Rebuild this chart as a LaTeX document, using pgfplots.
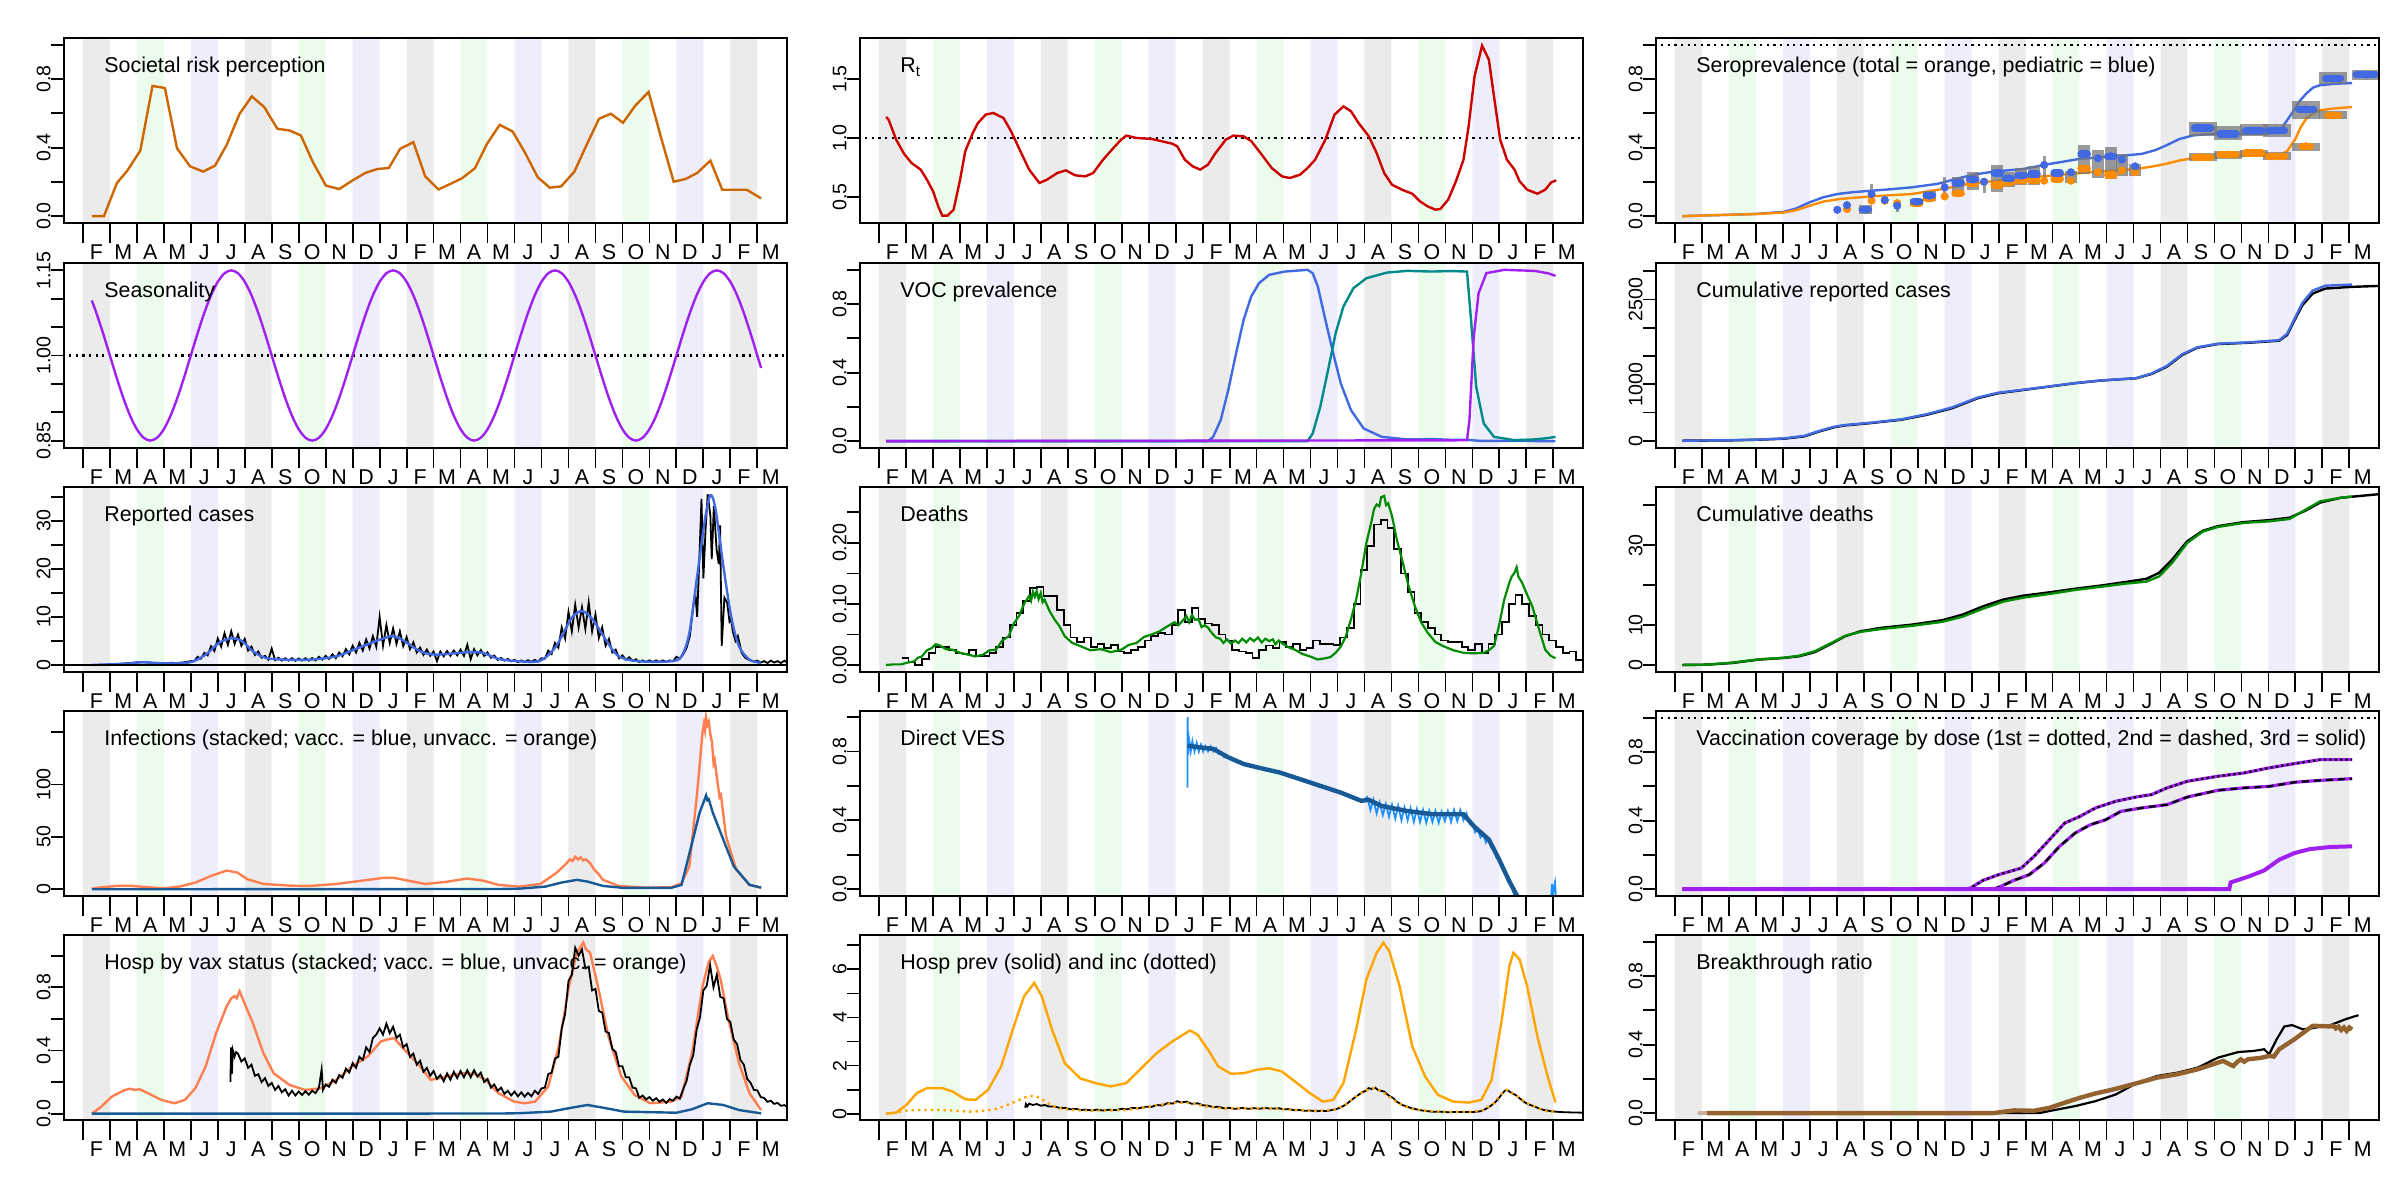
\documentclass[border=0pt]{standalone}
\usepackage{pgfplots}
\pgfplotsset{compat=1.18}
\usepackage{fontspec}
\setmainfont{Liberation Sans}
\newcommand\tfont{\fontsize{10.7}{12}\selectfont}
\newcommand\mfont{\fontsize{10.7}{12}\selectfont}
\newcommand\yfont{\fontsize{9.8}{11}\selectfont}
\definecolor{sgray}{RGB}{235,235,235}
\definecolor{sgreen}{RGB}{236,252,236}
\definecolor{sblue}{RGB}{237,237,252}
\definecolor{riskc}{RGB}{205,102,0}
\definecolor{rtc}{RGB}{205,0,0}
\definecolor{purp}{RGB}{160,32,240}
\definecolor{royal}{RGB}{65,105,225}
\definecolor{teal4}{RGB}{0,139,139}
\definecolor{grn}{RGB}{0,139,0}
\definecolor{coral}{RGB}{255,127,80}
\definecolor{dblue}{RGB}{24,90,150}
\definecolor{dodger}{RGB}{30,144,255}
\definecolor{orng}{RGB}{255,165,0}
\definecolor{dorng}{RGB}{255,140,0}
\definecolor{brn}{RGB}{148,98,47}
\definecolor{gbox}{RGB}{120,120,120}
\newcommand{\stripes}[2]{%
\addplot[draw=none, fill=sgray, forget plot] coordinates {(0,#1)(0,#2)(1,#2)(1,#1)(6,#1)(6,#2)(7,#2)(7,#1)(12,#1)(12,#2)(13,#2)(13,#1)(18,#1)(18,#2)(19,#2)(19,#1)(24,#1)(24,#2)(25,#2)(25,#1)};
\addplot[draw=none, fill=sgreen, forget plot] coordinates {(2,#1)(2,#2)(3,#2)(3,#1)(8,#1)(8,#2)(9,#2)(9,#1)(14,#1)(14,#2)(15,#2)(15,#1)(20,#1)(20,#2)(21,#2)(21,#1)};
\addplot[draw=none, fill=sblue, forget plot] coordinates {(4,#1)(4,#2)(5,#2)(5,#1)(10,#1)(10,#2)(11,#2)(11,#1)(16,#1)(16,#2)(17,#2)(17,#1)(22,#1)(22,#2)(23,#2)(23,#1)};
}
\newcommand{\refline}[1]{\addplot[black, line width=1.1pt, dash pattern=on 1.1pt off 2.2pt, forget plot] coordinates {(-1,#1)(27,#1)};}
\tikzset{ttl/.style={anchor=base west, font=\tfont, inner sep=0pt, xshift=20pt, yshift=-17.5pt}}
\pgfplotsset{
 panel/.style={
  scale only axis, width=361.5pt, height=92.5pt, anchor=south west,
  xmin=-0.7, xmax=26.1,
  clip mode=individual, axis on top,
  axis line style={line width=1pt},
  every tick/.style={black, line width=0.9pt},
  tick align=outside, xtick pos=left, ytick pos=left,
  xtick={-5},
  extra x ticks={0.5,1.5,2.5,3.5,4.5,5.5,6.5,7.5,8.5,9.5,10.5,11.5,12.5,13.5,14.5,15.5,16.5,17.5,18.5,19.5,20.5,21.5,22.5,23.5,24.5,25.5},
  extra x tick labels={F,M,A,M,J,J,A,S,O,N,D,J,F,M,A,M,J,J,A,S,O,N,D,J,F,M},
  extra x tick style={tick style={draw=none}},
  minor xtick={0,1,2,3,4,5,6,7,8,9,10,11,12,13,14,15,16,17,18,19,20,21,22,23,24,25},
  minor tick length=10pt, major tick length=6.5pt,
  xticklabel style={font=\mfont, anchor=north, inner sep=0pt, yshift=-4pt},
  yticklabel style={font=\yfont, rotate=90, anchor=south, inner sep=0pt},
 },
 p01/.style={ymin=-0.04, ymax=1.04, ytick={0,0.2,0.4,0.6,0.8,1}, yticklabels={0.0,,0.4,,0.8,}},
 gbar/.style={only marks, mark=*, mark options={draw opacity=0, fill opacity=0}, error bars/.cd, y dir=both, y explicit, error mark=none, error bar style={line width=#1, gbox, opacity=0.75}},
}
\begin{document}
\begin{tikzpicture}
\path[use as bounding box] (0,0) rectangle (1200pt,600pt);
% ---------------- Row 1
\begin{axis}[panel, p01, at={(32pt,488.5pt)}]
\stripes{-0.2}{1.2}
\addplot[riskc, line width=1.2pt] coordinates {(0.33,0)(0.78,0)(1.26,0.193)(1.65,0.266)(2.13,0.383)(2.58,0.76)(3.04,0.748)(3.49,0.396)(3.97,0.291)(4.46,0.26)(4.9,0.295)(5.33,0.416)(5.81,0.598)(6.26,0.699)(6.72,0.637)(7.21,0.51)(7.66,0.5)(8.08,0.471)(8.53,0.314)(9.01,0.178)(9.5,0.158)(9.98,0.207)(10.47,0.252)(10.91,0.275)(11.34,0.281)(11.76,0.393)(12.25,0.432)(12.69,0.232)(13.18,0.156)(13.62,0.188)(14.05,0.221)(14.53,0.279)(14.98,0.422)(15.45,0.533)(15.93,0.494)(16.38,0.373)(16.86,0.227)(17.31,0.166)(17.73,0.174)(18.22,0.26)(18.66,0.412)(19.13,0.568)(19.57,0.598)(20.02,0.545)(20.48,0.646)(20.97,0.725)(21.41,0.471)(21.9,0.201)(22.34,0.217)(22.77,0.252)(23.26,0.324)(23.7,0.154)(24.17,0.154)(24.61,0.154)(25.14,0.104)};
\node[ttl] at (rel axis cs:0,1) {Societal risk perception};
\end{axis}
\begin{axis}[panel, at={(430pt,488.5pt)}, ymin=0.28, ymax=1.847, ytick={0.5,1,1.5}, yticklabels={0.5,1.0,1.5}]
\stripes{0}{2}
\refline{1}
\addplot[rtc, line width=1.2pt] coordinates {(0.27,1.178)(0.36,1.155)(0.64,0.986)(0.93,0.867)(1.21,0.788)(1.55,0.732)(1.78,0.647)(2.01,0.548)(2.2,0.421)(2.35,0.342)(2.54,0.342)(2.77,0.393)(3.01,0.647)(3.2,0.887)(3.48,1.042)(3.67,1.127)(3.96,1.198)(4.24,1.212)(4.62,1.169)(4.9,1.056)(5.19,0.915)(5.57,0.732)(5.95,0.619)(6.23,0.647)(6.61,0.703)(6.93,0.726)(7.27,0.684)(7.65,0.675)(7.94,0.703)(8.31,0.816)(8.69,0.915)(8.98,0.986)(9.17,1.02)(9.55,1.0)(10.11,0.992)(10.49,0.972)(10.87,0.952)(11.06,0.929)(11.34,0.816)(11.63,0.76)(11.91,0.732)(12.2,0.774)(12.48,0.873)(12.86,0.986)(13.14,1.02)(13.52,1.014)(13.81,0.972)(14.19,0.859)(14.56,0.746)(14.94,0.675)(15.23,0.661)(15.61,0.689)(15.89,0.746)(16.17,0.816)(16.55,0.986)(16.89,1.198)(17.22,1.268)(17.5,1.226)(17.78,1.127)(18.16,1.014)(18.45,0.873)(18.73,0.703)(19.02,0.604)(19.39,0.562)(19.77,0.528)(20.06,0.463)(20.34,0.421)(20.63,0.393)(20.81,0.398)(21.1,0.477)(21.39,0.633)(21.67,0.816)(21.86,1.099)(22.08,1.523)(22.36,1.782)(22.61,1.664)(22.8,1.353)(23.03,0.986)(23.28,0.816)(23.56,0.732)(23.75,0.633)(24.03,0.562)(24.41,0.528)(24.7,0.562)(24.92,0.624)(25.11,0.641)};
\node[ttl] at (rel axis cs:0,1) {R\textsubscript{t}};
\end{axis}
\begin{axis}[panel, p01, at={(828pt,488.5pt)}]
\stripes{-0.2}{1.2}
\refline{1}
\addplot[royal, line width=1.2pt] coordinates {(0.28,0)(2.0,0.008)(3.0,0.013)(4.03,0.025)(4.5,0.045)(4.98,0.08)(5.5,0.11)(6.02,0.129)(6.6,0.14)(7.25,0.148)(8.0,0.157)(8.77,0.168)(9.72,0.188)(10.66,0.227)(11.2,0.245)(11.8,0.26)(12.9,0.275)(13.9,0.305)(15.0,0.334)(16.2,0.348)(17.3,0.363)(17.8,0.385)(18.2,0.412)(18.7,0.45)(19.2,0.471)(19.7,0.478)(20.1,0.48)(21.6,0.48)(22.2,0.485)(22.4,0.495)(22.65,0.55)(22.9,0.607)(23.15,0.67)(23.4,0.715)(23.65,0.75)(23.9,0.764)(24.4,0.772)(25.1,0.777)};
\addplot[dorng, line width=1.2pt] coordinates {(0.28,0)(2.0,0.008)(3.0,0.012)(4.03,0.021)(4.5,0.035)(4.98,0.06)(5.5,0.085)(6.1,0.1)(7.25,0.115)(8.77,0.129)(9.9,0.158)(11.0,0.191)(12.6,0.217)(13.9,0.236)(15.4,0.256)(17.1,0.275)(17.7,0.29)(18.2,0.305)(18.7,0.325)(19.2,0.338)(19.7,0.348)(20.1,0.35)(22.4,0.354)(22.7,0.38)(23.0,0.451)(23.2,0.52)(23.4,0.568)(23.65,0.6)(23.9,0.617)(24.4,0.628)(25.1,0.637)};
\addplot[gbar=1.5pt] coordinates {(6.02,0.0375) +- (0,0.0125) (6.38,0.062) +- (0,0.022) (7.29,0.135) +- (0,0.055) (7.78,0.095) +- (0,0.025) (8.24,0.06) +- (0,0.035) (10.0,0.17) +- (0,0.06) (11.46,0.18) +- (0,0.045) (13.69,0.28) +- (0,0.07)};
\addplot[gbar=6.2pt] coordinates {(7.06,0.04) +- (0,0.025) (8.96,0.082) +- (0,0.02) (9.43,0.118) +- (0,0.028) (10.5,0.175) +- (0,0.055) (11.04,0.205) +- (0,0.055) (11.95,0.22) +- (0,0.08) (12.37,0.215) +- (0,0.045) (12.84,0.23) +- (0,0.05) (13.31,0.235) +- (0,0.055) (14.17,0.235) +- (0,0.035) (14.68,0.23) +- (0,0.035) (15.17,0.33) +- (0,0.085) (15.68,0.305) +- (0,0.08) (16.16,0.31) +- (0,0.095) (16.57,0.3) +- (0,0.065) (17.06,0.27) +- (0,0.035)};
\addplot[gbar=14pt] coordinates {(19.56,0.51) +- (0,0.04) (19.56,0.345) +- (0,0.022) (20.5,0.485) +- (0,0.04) (20.5,0.357) +- (0,0.022) (21.45,0.5) +- (0,0.035) (21.45,0.368) +- (0,0.02) (22.3,0.5) +- (0,0.04) (22.3,0.35) +- (0,0.022) (23.4,0.62) +- (0,0.05) (23.4,0.405) +- (0,0.022) (24.4,0.805) +- (0,0.035) (24.4,0.59) +- (0,0.022) (25.6,0.826) +- (0,0.03)};
\addplot[only marks, mark=*, mark size=1.8pt, dorng, error bars/.cd, x dir=both, x explicit, error mark=none, error bar style={line width=3.6pt, line cap=round, dorng}] coordinates {(6.38,0.041) +- (0,0) (7.06,0.037) +- (0.12,0) (7.29,0.09) +- (0,0) (7.78,0.09) +- (0,0) (8.24,0.076) +- (0,0) (8.96,0.076) +- (0.12,0) (9.43,0.104) +- (0.12,0) (10.0,0.115) +- (0,0) (10.5,0.133) +- (0.12,0) (11.04,0.193) +- (0.12,0) (11.46,0.2) +- (0,0) (11.95,0.182) +- (0.12,0) (12.37,0.197) +- (0.12,0) (12.84,0.207) +- (0.12,0) (13.31,0.207) +- (0.12,0) (13.69,0.207) +- (0,0) (14.17,0.217) +- (0.12,0) (14.68,0.207) +- (0,0) (15.17,0.279) +- (0.12,0) (15.68,0.256) +- (0,0) (16.16,0.24) +- (0.12,0) (16.57,0.266) +- (0,0) (17.06,0.256) +- (0,0) (19.56,0.344) +- (0.3,0) (20.5,0.359) +- (0.3,0) (21.45,0.369) +- (0.3,0) (22.3,0.35) +- (0.3,0) (23.4,0.408) +- (0.15,0) (24.4,0.588) +- (0.2,0)};
\addplot[only marks, mark=*, mark size=1.8pt, royal, error bars/.cd, x dir=both, x explicit, error mark=none, error bar style={line width=3.6pt, line cap=round, royal}] coordinates {(6.02,0.037) +- (0,0) (6.38,0.064) +- (0,0) (7.06,0.037) +- (0.12,0) (7.29,0.129) +- (0,0) (7.78,0.094) +- (0,0) (8.24,0.061) +- (0,0) (8.96,0.084) +- (0.12,0) (9.43,0.119) +- (0.12,0) (10.0,0.168) +- (0,0) (10.5,0.193) +- (0.12,0) (11.04,0.213) +- (0.12,0) (11.46,0.201) +- (0,0) (11.95,0.252) +- (0.12,0) (12.37,0.221) +- (0.12,0) (12.84,0.236) +- (0.12,0) (13.31,0.246) +- (0.12,0) (13.69,0.299) +- (0,0) (14.17,0.252) +- (0.12,0) (14.68,0.256) +- (0,0) (15.17,0.363) +- (0.12,0) (15.68,0.338) +- (0,0) (16.16,0.35) +- (0.12,0) (16.57,0.33) +- (0,0) (17.06,0.291) +- (0,0) (19.56,0.514) +- (0.3,0) (20.5,0.48) +- (0.3,0) (21.45,0.5) +- (0.3,0) (22.3,0.5) +- (0.3,0) (23.4,0.623) +- (0.28,0) (24.4,0.803) +- (0.28,0) (25.6,0.826) +- (0.35,0)};
\node[ttl] at (rel axis cs:0,1) {Seroprevalence (total = orange, pediatric = blue)};
\end{axis}
% ---------------- Row 2
\begin{axis}[panel, at={(32pt,376pt)}, ymin=0.837, ymax=1.163, ytick={0.85,0.9,0.95,1,1.05,1.1,1.15}, yticklabels={0.85,,,1.00,,,1.15}]
\stripes{0.8}{1.2}
\refline{1}
\addplot[purp, line width=1.2pt, smooth] coordinates {(0.33,1.097)(0.5,1.075)(0.75,1.0388)(1,1)(1.25,0.9612)(1.5,0.925)(1.75,0.8939)(2,0.8701)(2.25,0.8551)(2.5,0.85)(2.75,0.8551)(3,0.8701)(3.25,0.8939)(3.5,0.925)(3.75,0.9612)(4,1)(4.25,1.0388)(4.5,1.075)(4.75,1.1061)(5,1.1299)(5.25,1.1449)(5.5,1.15)(5.75,1.1449)(6,1.1299)(6.25,1.1061)(6.5,1.075)(6.75,1.0388)(7,1)(7.25,0.9612)(7.5,0.925)(7.75,0.8939)(8,0.8701)(8.25,0.8551)(8.5,0.85)(8.75,0.8551)(9,0.8701)(9.25,0.8939)(9.5,0.925)(9.75,0.9612)(10,1)(10.25,1.0388)(10.5,1.075)(10.75,1.1061)(11,1.1299)(11.25,1.1449)(11.5,1.15)(11.75,1.1449)(12,1.1299)(12.25,1.1061)(12.5,1.075)(12.75,1.0388)(13,1)(13.25,0.9612)(13.5,0.925)(13.75,0.8939)(14,0.8701)(14.25,0.8551)(14.5,0.85)(14.75,0.8551)(15,0.8701)(15.25,0.8939)(15.5,0.925)(15.75,0.9612)(16,1)(16.25,1.0388)(16.5,1.075)(16.75,1.1061)(17,1.1299)(17.25,1.1449)(17.5,1.15)(17.75,1.1449)(18,1.1299)(18.25,1.1061)(18.5,1.075)(18.75,1.0388)(19,1)(19.25,0.9612)(19.5,0.925)(19.75,0.8939)(20,0.8701)(20.25,0.8551)(20.5,0.85)(20.75,0.8551)(21,0.8701)(21.25,0.8939)(21.5,0.925)(21.75,0.9612)(22,1)(22.25,1.0388)(22.5,1.075)(22.75,1.1061)(23,1.1299)(23.25,1.1449)(23.5,1.15)(23.75,1.1449)(24,1.1299)(24.25,1.1061)(24.5,1.075)(24.75,1.0388)(25,1)(25.14,0.978)};
\node[ttl] at (rel axis cs:0,1) {Seasonality};
\end{axis}
\begin{axis}[panel, p01, at={(430pt,376pt)}]
\stripes{-0.2}{1.2}
\addplot[royal, line width=1.2pt] coordinates {(0.27,0)(12.2,0)(12.39,0.025)(12.67,0.123)(12.95,0.298)(13.24,0.513)(13.52,0.708)(13.8,0.844)(14.09,0.922)(14.47,0.971)(15.04,0.99)(15.89,1.0)(16.08,0.98)(16.27,0.903)(16.55,0.708)(16.84,0.513)(17.12,0.337)(17.5,0.181)(17.97,0.074)(18.64,0.025)(19.58,0.01)(20.5,0.012)(21.2,0.008)(21.8,0.008)(22.23,0.002)(25.08,0.0)};
\addplot[teal4, line width=1.2pt] coordinates {(0.27,0)(15.89,0)(16.08,0.045)(16.36,0.2)(16.65,0.415)(16.93,0.63)(17.22,0.786)(17.59,0.893)(18.07,0.951)(18.83,0.984)(19.58,0.994)(20.5,0.99)(21.2,0.993)(21.8,0.99)(21.95,0.708)(22.14,0.318)(22.42,0.103)(22.8,0.025)(23.56,0.006)(24.3,0.01)(24.8,0.018)(25.08,0.025)};
\addplot[purp, line width=1.2pt] coordinates {(0.27,0)(21.8,0.005)(21.89,0.123)(22.05,0.61)(22.23,0.864)(22.52,0.981)(23.18,1.0)(24.3,0.994)(24.8,0.98)(25.08,0.965)};
\node[ttl] at (rel axis cs:0,1) {VOC prevalence};
\end{axis}
\begin{axis}[panel, at={(828pt,376pt)}, ymin=-129, ymax=3147, ytick={0,500,1000,1500,2000,2500,3000}, yticklabels={0,,1000,,,2500,}]
\stripes{-300}{3400}
\addplot[black, line width=1.2pt] coordinates {(0.28,0)(1.95,5)(3.09,18)(4.03,35)(4.79,76)(5.36,165)(5.93,241)(6.31,271)(7.25,312)(8.39,371)(9.34,459)(10.28,576)(11.23,753)(11.99,841)(12.94,900)(13.88,959)(14.83,1018)(15.78,1065)(17.1,1106)(17.67,1182)(18.24,1312)(18.8,1518)(19.37,1647)(20.13,1712)(21.27,1735)(22.4,1771)(22.69,1871)(22.97,2135)(23.26,2400)(23.64,2606)(24.11,2694)(25.06,2724)(26.1,2741)};
\addplot[royal, line width=1.2pt] coordinates {(0.28,0)(1.95,8)(3.09,20)(4.03,40)(4.79,85)(5.36,175)(5.93,250)(6.31,278)(7.25,318)(8.39,378)(9.34,470)(10.28,590)(11.23,765)(11.99,850)(12.94,905)(13.88,962)(14.83,1020)(15.78,1067)(17.1,1108)(17.67,1190)(18.24,1325)(18.8,1530)(19.37,1655)(20.13,1718)(21.27,1742)(22.4,1780)(22.69,1890)(22.97,2160)(23.26,2440)(23.64,2660)(24.11,2745)(25.1,2765)};
\node[ttl] at (rel axis cs:0,1) {Cumulative reported cases};
\end{axis}
% ---------------- Row 3
\begin{axis}[panel, at={(32pt,264pt)}, ymin=-1.46, ymax=37, ytick={0,5,10,15,20,25,30,35}, yticklabels={0,,10,,20,,30,}]
\stripes{-5}{40}
\addplot[black, line width=0.9pt] coordinates {(0.33,0)(0.5,0)(0.75,0.05)(1,0.1)(1.25,0.2)(1.5,0.3)(1.75,0.4)(2,0.55)(2.25,0.6)(2.5,0.45)(2.75,0.4)(3,0.35)(3.25,0.45)(3.5,0.4)(3.75,0.55)(4,0.8)(4.125,0.78)(4.25,1.7)(4.375,1.3)(4.5,2.5)(4.625,2.0)(4.75,3.9)(4.875,2.9)(5,5.5)(5.125,3.8)(5.25,6.6)(5.375,4.2)(5.5,7.0)(5.625,4.4)(5.75,6.3)(5.875,4.0)(6,5.4)(6.125,3.0)(6.25,3.8)(6.375,2.1)(6.5,2.8)(6.625,1.5)(6.75,1.9)(6.875,1.1)(7,3.4)(7.125,1.0)(7.25,1.5)(7.375,0.9)(7.5,1.4)(7.625,0.9)(7.75,1.4)(7.875,0.85)(8,1.35)(8.125,0.9)(8.25,1.4)(8.375,0.9)(8.5,1.45)(8.625,0.95)(8.75,1.7)(8.875,1.1)(9,1.9)(9.125,1.25)(9.25,2.2)(9.375,1.4)(9.5,2.6)(9.625,1.8)(9.75,3.3)(9.875,2.2)(10,4.0)(10.125,2.6)(10.25,4.6)(10.375,3.0)(10.5,5.3)(10.625,3.4)(10.75,6.0)(10.875,3.8)(11,10.0)(11.125,4.0)(11.25,8.3)(11.375,4.6)(11.5,7.6)(11.625,4.4)(11.75,7.0)(11.875,3.9)(12,5.8)(12.125,3.3)(12.25,4.7)(12.375,2.6)(12.5,3.6)(12.625,2.1)(12.75,3.2)(12.875,1.9)(13,2.8)(13.125,0.8)(13.25,2.8)(13.375,1.8)(13.5,2.9)(13.625,1.9)(13.75,3.0)(13.875,2.0)(14,3.2)(14.125,1.9)(14.25,4.2)(14.375,1.2)(14.5,3.3)(14.625,2.0)(14.75,3.1)(14.875,1.9)(15,2.6)(15.125,1.5)(15.25,1.95)(15.375,1.05)(15.5,1.45)(15.625,0.9)(15.75,1.25)(15.875,0.75)(16,1.05)(16.125,0.6)(16.25,0.95)(16.375,0.6)(16.5,1.0)(16.625,0.65)(16.75,1.05)(16.875,0.7)(17,1.4)(17.125,1.3)(17.25,3.0)(17.375,2.3)(17.5,4.6)(17.625,3.6)(17.75,7.8)(17.875,5.5)(18,11.0)(18.125,7.0)(18.25,12.5)(18.375,7.8)(18.5,12.0)(18.625,7.5)(18.75,13.0)(18.875,7.0)(19,10.5)(19.125,5.6)(19.25,7.8)(19.375,4.0)(19.5,5.4)(19.625,2.6)(19.75,3.2)(19.875,1.4)(20,2.0)(20.125,1.1)(20.25,1.6)(20.375,0.85)(20.5,1.2)(20.625,0.6)(20.75,0.95)(20.875,0.6)(21,0.95)(21.125,0.6)(21.25,0.95)(21.375,0.6)(21.5,0.95)(21.625,0.6)(21.75,0.95)(21.875,0.75)(22,1.7)(22.125,1.3)(22.25,2.2)(22.375,3.5)(22.5,6.0)(22.62,12)(22.7,15)(22.77,10)(22.87,25)(22.93,34.5)(23.0,18)(23.08,28)(23.16,35.5)(23.26,31)(23.31,22)(23.39,33)(23.49,24)(23.57,21)(23.62,29)(23.68,4)(23.78,14)(23.88,13)(23.97,9)(24.03,9.5)(24.09,7)(24.19,5)(24.28,6)(24.42,2.5)(24.55,1.5)(24.71,1.0)(24.875,0.7)(25,0.9)(25.125,0.5)(25.25,0.8)(25.375,0.4)(25.5,0.9)(25.625,0.5)(25.75,0.8)(25.875,0.4)(26,0.9)(26.1,0.5)};
\addplot[royal, line width=1.2pt, smooth] coordinates {(0.33,0)(1.65,0.28)(2.23,0.56)(3.0,0.35)(3.97,0.56)(4.55,2.15)(5.04,4.58)(5.52,5.56)(5.91,4.93)(6.3,2.85)(6.78,1.46)(7.46,1.11)(8.43,1.11)(9.4,1.81)(10.37,3.89)(11.43,5.97)(11.92,4.93)(12.5,2.85)(13.08,2.15)(14.24,2.64)(14.83,2.5)(15.41,1.25)(16.18,0.76)(16.96,0.9)(17.54,3.89)(18.12,9.79)(18.51,11.18)(18.9,9.44)(19.38,5.28)(19.86,1.81)(20.64,0.76)(21.8,0.76)(22.19,1.81)(22.48,6.67)(22.77,18.5)(23.06,30.3)(23.26,35.3)(23.45,32.4)(23.74,20.6)(24.03,10.1)(24.32,3.89)(24.71,1.11)(25.14,0.42)};
\addplot[black, line width=0.9pt, forget plot] coordinates {(-1,0)(27,0)};
\node[ttl] at (rel axis cs:0,1) {Reported cases};
\end{axis}
\begin{axis}[panel, at={(430pt,264pt)}, ymin=-0.0115, ymax=0.2916, ytick={0,0.05,0.1,0.15,0.2,0.25}, yticklabels={0.00,,0.10,,0.20,}]
\stripes{-0.05}{0.35}
\addplot[black, line width=0.9pt, const plot] coordinates {(0.85,0.012)(1.1,0.004)(1.35,0.0)(1.6,0.01)(1.85,0.02)(2.1,0.03)(2.35,0.03)(2.6,0.025)(2.85,0.02)(3.1,0.018)(3.35,0.025)(3.6,0.014)(3.85,0.015)(4.1,0.02)(4.35,0.03)(4.6,0.045)(4.85,0.065)(5.1,0.085)(5.35,0.105)(5.6,0.126)(5.85,0.128)(6.1,0.113)(6.35,0.113)(6.6,0.09)(6.85,0.065)(7.1,0.045)(7.35,0.038)(7.6,0.045)(7.85,0.03)(8.1,0.035)(8.35,0.028)(8.6,0.033)(8.85,0.022)(9.1,0.02)(9.35,0.025)(9.6,0.03)(9.85,0.04)(10.1,0.048)(10.35,0.052)(10.6,0.05)(10.85,0.065)(11.1,0.09)(11.35,0.07)(11.6,0.093)(11.85,0.075)(12.1,0.068)(12.35,0.065)(12.6,0.05)(12.85,0.04)(13.1,0.025)(13.35,0.022)(13.6,0.02)(13.85,0.012)(14.1,0.025)(14.35,0.032)(14.6,0.028)(14.85,0.038)(15.1,0.03)(15.35,0.035)(15.6,0.025)(15.85,0.028)(16.1,0.04)(16.35,0.035)(16.6,0.035)(16.85,0.033)(17.1,0.045)(17.35,0.06)(17.6,0.1)(17.85,0.155)(18.1,0.195)(18.35,0.23)(18.6,0.238)(18.85,0.225)(19.1,0.19)(19.35,0.15)(19.6,0.12)(19.85,0.085)(20.1,0.07)(20.35,0.06)(20.6,0.05)(20.85,0.04)(21.1,0.037)(21.35,0.037)(21.6,0.03)(21.85,0.025)(22.1,0.035)(22.35,0.02)(22.6,0.035)(22.85,0.05)(23.1,0.07)(23.35,0.1)(23.6,0.115)(23.85,0.1)(24.1,0.08)(24.35,0.065)(24.6,0.05)(24.85,0.04)(25.1,0.03)(25.35,0.02)(25.6,0.022)(25.85,0.008)(26.1,0.005)};
\addplot[grn, line width=1.1pt] coordinates {(0.27,0)(0.55,0.001)(0.83,0.001)(1.07,0.004)(1.31,0.006)(1.45,0.012)(1.59,0.014)(1.78,0.024)(1.97,0.028)(2.11,0.034)(2.25,0.032)(2.49,0.026)(2.73,0.025)(3.0,0.02)(3.3,0.017)(3.58,0.014)(3.86,0.017)(4.1,0.024)(4.34,0.025)(4.57,0.04)(4.81,0.047)(5.0,0.068)(5.19,0.08)(5.38,0.1)(5.57,0.113)(5.64,0.105)(5.71,0.12)(5.78,0.112)(5.85,0.121)(5.92,0.108)(6.0,0.118)(6.07,0.103)(6.14,0.107)(6.33,0.088)(6.52,0.074)(6.7,0.063)(6.89,0.047)(7.17,0.036)(7.46,0.031)(7.84,0.024)(8.22,0.026)(8.6,0.021)(8.98,0.025)(9.27,0.033)(9.55,0.036)(9.83,0.046)(10.11,0.05)(10.4,0.055)(10.68,0.063)(10.96,0.07)(11.1,0.065)(11.25,0.072)(11.4,0.08)(11.5,0.07)(11.6,0.082)(11.72,0.074)(11.85,0.075)(11.96,0.062)(12.08,0.065)(12.2,0.061)(12.35,0.052)(12.5,0.045)(12.65,0.043)(12.77,0.036)(12.9,0.042)(13.05,0.035)(13.2,0.04)(13.33,0.036)(13.47,0.043)(13.62,0.037)(13.76,0.044)(13.9,0.039)(14.05,0.045)(14.19,0.037)(14.33,0.043)(14.47,0.039)(14.6,0.042)(14.7,0.034)(14.82,0.04)(14.94,0.036)(15.18,0.029)(15.42,0.025)(15.7,0.018)(15.98,0.014)(16.27,0.009)(16.55,0.011)(16.74,0.013)(16.93,0.02)(17.12,0.03)(17.31,0.047)(17.5,0.075)(17.69,0.107)(17.88,0.15)(18.07,0.2)(18.26,0.235)(18.35,0.255)(18.45,0.263)(18.55,0.26)(18.62,0.275)(18.73,0.277)(18.8,0.262)(18.88,0.265)(19.02,0.244)(19.2,0.205)(19.39,0.173)(19.63,0.13)(19.87,0.096)(20.1,0.07)(20.34,0.053)(20.62,0.038)(20.91,0.031)(21.3,0.024)(21.67,0.02)(22.05,0.019)(22.42,0.02)(22.61,0.024)(22.8,0.031)(22.99,0.065)(23.18,0.107)(23.37,0.135)(23.46,0.145)(23.56,0.151)(23.64,0.16)(23.7,0.145)(23.84,0.135)(24.03,0.115)(24.22,0.096)(24.46,0.06)(24.7,0.025)(24.9,0.015)(25.08,0.011)};
\node[ttl] at (rel axis cs:0,1) {Deaths};
\end{axis}
\begin{axis}[panel, at={(828pt,264pt)}, ymin=-1.76, ymax=44.6, ytick={0,10,20,30,40}, yticklabels={0,10,,30,}]
\stripes{-5}{50}
\addplot[black, line width=1.2pt] coordinates {(0.28,0)(1.19,0.08)(2.14,0.5)(3.09,1.34)(4.03,1.76)(4.6,2.18)(5.17,3.18)(5.74,5.1)(6.31,7.2)(6.88,8.45)(7.63,9.29)(8.77,10.1)(9.9,11.2)(10.66,12.6)(11.42,14.7)(12.18,16.4)(12.94,17.4)(13.88,18.2)(14.83,19.1)(15.78,19.9)(16.72,20.8)(17.48,21.6)(17.95,23.1)(18.43,26.4)(18.99,31.0)(19.56,33.6)(20.13,34.8)(21.08,35.8)(22.03,36.3)(22.78,36.9)(23.35,38.6)(23.92,40.7)(24.68,41.9)(26.1,42.8)};
\addplot[grn, line width=1.2pt] coordinates {(0.28,0)(1.19,0.08)(2.14,0.6)(3.09,1.4)(4.03,1.8)(4.6,2.3)(5.17,3.4)(5.74,5.3)(6.31,7.3)(6.88,8.3)(7.63,9.0)(8.77,9.8)(9.9,10.8)(10.66,12.1)(11.42,14.1)(12.18,15.9)(12.94,16.9)(13.88,17.8)(14.83,18.8)(15.78,19.6)(16.72,20.4)(17.48,20.9)(17.95,22.2)(18.43,25.6)(18.99,30.6)(19.56,33.4)(20.13,34.6)(21.08,35.6)(22.03,36.0)(22.78,36.6)(23.35,38.8)(23.92,41.0)(24.68,41.9)(25.1,42.2)};
\node[ttl] at (rel axis cs:0,1) {Cumulative deaths};
\end{axis}
% ---------------- Row 4
\begin{axis}[panel, at={(32pt,152pt)}, ymin=-6.4, ymax=170.2, ytick={0,50,100,150}, yticklabels={0,50,100,}]
\stripes{-20}{190}
\addplot[coral, line width=1.2pt] coordinates {(0.33,0.6)(0.68,1.9)(1.26,3.2)(1.84,3.2)(2.42,1.9)(3.0,1.0)(3.59,2.6)(4.17,6.4)(4.75,12.8)(5.33,17.9)(5.72,16.0)(6.1,9.6)(6.69,5.1)(7.66,3.5)(8.43,3.2)(9.4,5.1)(10.37,8.3)(11.14,10.9)(11.53,10.9)(12.11,8.0)(12.69,5.1)(13.47,7.1)(14.24,10.3)(14.83,8.3)(15.41,4.2)(16.18,2.6)(16.96,5.1)(17.54,15.4)(17.9,24)(18.05,28.5)(18.15,27)(18.25,31)(18.35,28.5)(18.45,30.5)(18.55,27.5)(18.65,28.5)(18.8,25.0)(18.95,19)(19.1,15)(19.28,9.0)(19.86,3.2)(20.83,1.6)(21.8,1.9)(22.19,5.8)(22.48,21.8)(22.77,92.3)(22.97,150)(23.02,158)(23.06,152)(23.1,164)(23.15,157)(23.2,160)(23.26,148)(23.32,140)(23.38,120)(23.42,123)(23.51,105)(23.6,88)(23.65,90)(23.84,50.6)(24.22,18.6)(24.71,4.2)(25.14,1.6)};
\addplot[dblue, line width=1.2pt] coordinates {(0.33,0)(15.5,0.3)(16.18,0.6)(17.15,2.6)(17.73,6.4)(18.31,9.0)(18.7,7.4)(19.28,3.2)(20.06,1.3)(21.8,1.3)(22.19,4.2)(22.58,44.2)(22.86,73.1)(23.05,86)(23.1,89.7)(23.15,85)(23.2,86)(23.35,73.1)(23.74,47.4)(24.13,21.8)(24.71,4.2)(25.14,1.6)};
\node[ttl] at (rel axis cs:0,1) {Infections (stacked; vacc. = blue, unvacc. = orange)};
\end{axis}
\begin{axis}[panel, p01, at={(430pt,152pt)}, ymax=1.035]
\stripes{-0.2}{1.2}
\addplot[dodger, line width=0.9pt] coordinates {(11.44,0.59)(11.445,1.0)(11.46,0.78)(11.5,0.87)(11.56,0.8)(11.62,0.86)(11.7,0.8)(11.78,0.85)(11.86,0.8)(11.94,0.84)(12.02,0.8)(12.1,0.83)(12.2,0.8)(12.3,0.83)(12.4,0.8)(12.5,0.82)(12.6,0.785)(12.7,0.79)(12.8,0.765)(12.95,0.77)(13.1,0.75)(13.3,0.735)(13.5,0.73)(13.7,0.715)(13.9,0.71)(14.1,0.7)(14.3,0.7)(14.5,0.69)(14.7,0.68)(14.9,0.675)(15.1,0.665)(15.3,0.655)(15.5,0.645)(15.7,0.635)(15.9,0.625)(16.1,0.615)(16.3,0.6)(16.5,0.595)(16.7,0.58)(16.9,0.575)(17.1,0.56)(17.3,0.55)(17.5,0.535)(17.7,0.52)(17.85,0.51)(18.0,0.52)(18.1,0.535)(18.22,0.46)(18.33,0.52)(18.45,0.44)(18.56,0.505)(18.68,0.43)(18.79,0.495)(18.91,0.42)(19.02,0.49)(19.14,0.41)(19.25,0.485)(19.37,0.4)(19.48,0.475)(19.6,0.4)(19.71,0.47)(19.83,0.39)(19.94,0.465)(20.06,0.39)(20.17,0.46)(20.29,0.385)(20.4,0.455)(20.52,0.39)(20.63,0.455)(20.75,0.385)(20.86,0.45)(20.98,0.395)(21.09,0.455)(21.21,0.39)(21.32,0.46)(21.44,0.395)(21.55,0.46)(21.67,0.4)(21.78,0.44)(21.9,0.38)(22.0,0.38)(22.1,0.33)(22.2,0.35)(22.3,0.3)(22.4,0.32)(22.5,0.27)(22.6,0.29)(22.7,0.24)(22.8,0.23)(22.9,0.18)(23.0,0.17)(23.1,0.12)(23.2,0.1)(23.3,0.05)(23.4,0.04)(23.5,-0.01)(23.6,-0.06)};
\addplot[dodger, line width=0.9pt] coordinates {(24.92,-0.05)(24.95,0.03)(24.98,-0.05)(25.02,0.01)(25.06,0.04)(25.1,-0.05)};
\addplot[dblue, line width=2.2pt] coordinates {(11.44,0.834)(11.82,0.825)(12.39,0.815)(12.95,0.766)(13.52,0.727)(14.28,0.698)(14.85,0.678)(15.61,0.639)(16.36,0.6)(17.12,0.561)(17.88,0.513)(18.16,0.519)(18.64,0.483)(19.58,0.454)(20.53,0.435)(21.67,0.435)(22.05,0.366)(22.61,0.288)(22.99,0.172)(23.37,0.045)(23.66,-0.04)};
\node[ttl] at (rel axis cs:0,1) {Direct VES};
\end{axis}
\begin{axis}[panel, p01, at={(828pt,152pt)}]
\stripes{-0.2}{1.2}
\refline{1}
\addplot[purp, line width=1.6pt] coordinates {(0.28,0)(10.66,0)(10.95,0.006)(11.42,0.051)(11.99,0.084)(12.84,0.123)(13.31,0.191)(13.88,0.288)(14.45,0.386)(15.02,0.425)(15.59,0.474)(16.34,0.513)(17.1,0.538)(17.67,0.552)(18.24,0.591)(19.0,0.63)(20.13,0.659)(21.08,0.678)(22.03,0.708)(22.97,0.733)(23.92,0.756)(25.1,0.756)};
\addplot[black, line width=1.1pt, dash pattern=on 1.1pt off 1.6pt] coordinates {(10.66,0)(10.95,0.006)(11.42,0.051)(11.99,0.084)(12.84,0.123)(13.31,0.191)(13.88,0.288)(14.45,0.386)(15.02,0.425)(15.59,0.474)(16.34,0.513)(17.1,0.538)(17.67,0.552)(18.24,0.591)(19.0,0.63)(20.13,0.659)(21.08,0.678)(22.03,0.708)(22.97,0.733)(23.92,0.756)(25.1,0.756)};
\addplot[purp, line width=1.6pt] coordinates {(0.28,0)(11.8,0)(12.08,0.016)(12.56,0.051)(13.13,0.084)(13.69,0.152)(14.26,0.25)(14.83,0.327)(15.4,0.376)(15.97,0.405)(16.53,0.454)(17.29,0.474)(18.24,0.493)(19.0,0.538)(20.13,0.577)(21.08,0.591)(22.03,0.6)(22.97,0.624)(23.92,0.635)(25.1,0.645)};
\addplot[black, line width=1.1pt, dash pattern=on 3.5pt off 2.5pt] coordinates {(11.8,0)(12.08,0.016)(12.56,0.051)(13.13,0.084)(13.69,0.152)(14.26,0.25)(14.83,0.327)(15.4,0.376)(15.97,0.405)(16.53,0.454)(17.29,0.474)(18.24,0.493)(19.0,0.538)(20.13,0.577)(21.08,0.591)(22.03,0.6)(22.97,0.624)(23.92,0.635)(25.1,0.645)};
\addplot[purp, line width=2pt] coordinates {(0.28,0)(20.55,0)(20.6,0.039)(21.27,0.074)(21.84,0.109)(22.4,0.172)(22.97,0.211)(23.54,0.234)(24.3,0.246)(25.1,0.25)};
\node[ttl] at (rel axis cs:0,1) {Vaccination coverage by dose (1st = dotted, 2nd = dashed, 3rd = solid)};
\end{axis}
% ---------------- Row 5
\begin{axis}[panel, at={(32pt,40pt)}, ymin=-0.04, ymax=1.131, ytick={0,0.2,0.4,0.6,0.8,1}, yticklabels={0.0,,0.4,,0.8,}]
\stripes{-0.2}{1.3}
\addplot[coral, line width=1.2pt] coordinates {(0.33,0)(0.68,0.044)(1.07,0.108)(1.55,0.15)(1.75,0.158)(1.94,0.15)(2.1,0.155)(2.42,0.129)(2.91,0.087)(3.39,0.066)(3.78,0.087)(4.17,0.161)(4.55,0.299)(4.94,0.511)(5.33,0.68)(5.5,0.73)(5.62,0.744)(5.7,0.73)(5.81,0.775)(6.01,0.691)(6.3,0.574)(6.69,0.383)(7.07,0.256)(7.66,0.182)(8.24,0.15)(8.82,0.161)(9.4,0.214)(9.98,0.299)(10.56,0.362)(11.05,0.458)(11.3,0.47)(11.53,0.479)(11.92,0.405)(12.5,0.299)(12.89,0.214)(13.47,0.235)(14.05,0.256)(14.53,0.252)(14.92,0.214)(15.41,0.129)(15.99,0.076)(16.38,0.066)(16.76,0.076)(17.25,0.172)(17.64,0.426)(18.02,0.807)(18.31,1.019)(18.55,1.083)(18.65,1.04)(18.8,1.019)(19.09,0.807)(19.48,0.489)(19.96,0.235)(20.45,0.119)(21.03,0.066)(21.8,0.076)(22.19,0.108)(22.58,0.383)(22.97,0.807)(23.2,0.96)(23.35,0.998)(23.5,0.93)(23.64,0.85)(23.93,0.595)(24.32,0.32)(24.71,0.129)(25.14,0.023)};
\addplot[black, line width=0.9pt] coordinates {(5.47,0.2)(5.49,0.42)(5.52,0.25)(5.56,0.4)(5.62,0.36)(5.68,0.39)(5.75,0.38)(5.875,0.33)(6.0,0.35)(6.125,0.29)(6.25,0.31)(6.375,0.24)(6.5,0.25)(6.625,0.2)(6.75,0.225)(6.875,0.175)(7.0,0.195)(7.125,0.15)(7.25,0.175)(7.375,0.135)(7.5,0.155)(7.625,0.115)(7.75,0.145)(7.875,0.115)(8.0,0.14)(8.125,0.118)(8.25,0.142)(8.375,0.12)(8.5,0.145)(8.625,0.13)(8.75,0.165)(8.85,0.28)(8.9,0.15)(9.0,0.185)(9.125,0.17)(9.25,0.215)(9.375,0.195)(9.5,0.245)(9.625,0.228)(9.75,0.285)(9.875,0.26)(10.0,0.32)(10.125,0.29)(10.25,0.36)(10.375,0.34)(10.5,0.42)(10.625,0.39)(10.75,0.48)(10.875,0.5)(11.0,0.54)(11.125,0.5)(11.25,0.57)(11.375,0.51)(11.5,0.55)(11.625,0.48)(11.75,0.5)(11.875,0.42)(12.0,0.44)(12.125,0.36)(12.25,0.38)(12.375,0.31)(12.5,0.335)(12.625,0.265)(12.75,0.29)(12.875,0.24)(13.0,0.27)(13.125,0.22)(13.25,0.245)(13.375,0.205)(13.5,0.255)(13.625,0.215)(13.75,0.265)(13.875,0.225)(14.0,0.27)(14.125,0.23)(14.25,0.275)(14.375,0.23)(14.5,0.275)(14.625,0.235)(14.75,0.26)(14.875,0.2)(15.0,0.22)(15.125,0.165)(15.25,0.185)(15.375,0.145)(15.5,0.165)(15.625,0.125)(15.75,0.145)(15.875,0.115)(16.0,0.14)(16.125,0.11)(16.25,0.135)(16.375,0.108)(16.5,0.132)(16.625,0.11)(16.75,0.145)(16.875,0.125)(17.0,0.16)(17.125,0.165)(17.25,0.25)(17.375,0.26)(17.5,0.35)(17.625,0.36)(17.75,0.54)(17.875,0.63)(18.0,0.84)(18.125,0.88)(18.25,1.05)(18.375,1.0)(18.5,1.04)(18.625,0.92)(18.75,0.93)(18.875,0.78)(19.0,0.79)(19.125,0.65)(19.25,0.64)(19.375,0.52)(19.5,0.51)(19.625,0.41)(19.75,0.39)(19.875,0.3)(20.0,0.3)(20.125,0.23)(20.25,0.23)(20.375,0.165)(20.5,0.16)(20.625,0.1)(20.75,0.115)(20.875,0.09)(21.0,0.105)(21.125,0.082)(21.25,0.098)(21.375,0.075)(21.5,0.09)(21.625,0.068)(21.75,0.092)(21.875,0.082)(22.0,0.108)(22.125,0.095)(22.25,0.155)(22.375,0.205)(22.5,0.31)(22.625,0.37)(22.75,0.53)(22.875,0.61)(23.0,0.78)(23.125,0.81)(23.25,0.94)(23.375,0.8)(23.5,0.88)(23.625,0.74)(23.75,0.73)(23.875,0.6)(24.0,0.58)(24.125,0.47)(24.25,0.44)(24.375,0.34)(24.5,0.31)(24.625,0.22)(24.75,0.195)(24.875,0.15)(25.0,0.148)(25.125,0.105)(25.25,0.1)(25.375,0.075)(25.5,0.082)(25.625,0.062)(25.75,0.068)(25.875,0.05)(26.0,0.054)(26.1,0.044)};
\addplot[dblue, line width=1.2pt] coordinates {(0.33,0)(15.5,0.001)(16.18,0.003)(17.34,0.013)(18.12,0.038)(18.7,0.055)(19.28,0.038)(20.06,0.013)(22.0,0.006)(22.58,0.028)(23.16,0.066)(23.74,0.055)(24.32,0.023)(25.14,0.002)};
\node[ttl] at (rel axis cs:0,1) {Hosp by vax status (stacked; vacc. = blue, unvacc. = orange)};
\end{axis}
\begin{axis}[panel, at={(430pt,40pt)}, ymin=-0.264, ymax=7.43, ytick={0,1,2,3,4,5,6,7}, yticklabels={0,,2,,4,,6,}]
\stripes{-1}{8}
\addplot[orng, line width=1.2pt] coordinates {(0.27,0)(0.64,0.04)(1.02,0.36)(1.4,0.85)(1.78,1.06)(2.35,1.06)(2.73,0.92)(3.2,0.6)(3.58,0.57)(4.05,0.99)(4.53,1.96)(5.0,3.63)(5.38,4.88)(5.76,5.44)(6.04,4.88)(6.42,3.49)(6.89,2.1)(7.46,1.47)(8.03,1.27)(8.6,1.13)(9.17,1.27)(9.73,1.89)(10.3,2.52)(10.87,3.0)(11.53,3.46)(11.82,3.28)(12.2,2.66)(12.58,1.96)(13.05,1.66)(13.52,1.68)(13.99,1.82)(14.47,1.89)(14.94,1.75)(15.42,1.34)(15.98,0.85)(16.46,0.5)(16.84,0.57)(17.22,1.27)(17.69,3.49)(18.07,5.58)(18.45,6.69)(18.7,7.11)(18.92,6.76)(19.3,5.3)(19.77,2.8)(20.25,1.54)(20.72,0.78)(21.29,0.5)(21.86,0.46)(22.33,0.57)(22.71,1.4)(23.09,3.91)(23.37,6.13)(23.52,6.69)(23.75,6.41)(24.03,5.3)(24.41,3.21)(24.79,1.54)(25.08,0.47)};
\addplot[black, line width=0.9pt] coordinates {(5.42,0.25)(5.45,0.4)(5.5,0.3)(5.57,0.42)(5.7,0.36)(5.85,0.4)(6.0,0.33)(6.14,0.36)(6.3,0.3)(6.5,0.3)(6.7,0.24)(6.89,0.24)(7.1,0.18)(7.3,0.2)(7.5,0.15)(7.65,0.17)(7.9,0.13)(8.1,0.17)(8.3,0.13)(8.5,0.16)(8.79,0.15)(9.0,0.2)(9.2,0.18)(9.4,0.24)(9.6,0.22)(9.92,0.29)(10.1,0.28)(10.3,0.36)(10.5,0.34)(10.7,0.44)(10.9,0.42)(11.06,0.52)(11.2,0.46)(11.4,0.5)(11.6,0.41)(11.82,0.43)(12.0,0.35)(12.2,0.33)(12.4,0.27)(12.58,0.29)(12.8,0.22)(13.0,0.24)(13.2,0.2)(13.5,0.24)(13.7,0.2)(13.9,0.23)(14.1,0.2)(14.3,0.24)(14.5,0.21)(14.85,0.22)(15.0,0.18)(15.2,0.19)(15.4,0.14)(15.6,0.15)(15.8,0.12)(15.98,0.13)(16.2,0.1)(16.4,0.12)(16.6,0.11)(16.93,0.18)(17.1,0.25)(17.3,0.37)(17.5,0.55)(17.69,0.71)(17.9,0.88)(18.05,0.95)(18.15,1.06)(18.26,1.03)(18.4,1.08)(18.5,0.98)(18.73,0.92)(18.9,0.75)(19.05,0.66)(19.2,0.5)(19.4,0.36)(19.6,0.28)(19.77,0.22)(20.0,0.16)(20.2,0.12)(20.53,0.08)(20.8,0.08)(21.1,0.06)(21.5,0.07)(22.05,0.07)(22.3,0.1)(22.5,0.2)(22.65,0.3)(22.8,0.43)(22.95,0.6)(23.1,0.82)(23.2,0.95)(23.28,0.99)(23.4,0.9)(23.5,0.83)(23.6,0.78)(23.75,0.64)(23.9,0.5)(24.05,0.4)(24.2,0.34)(24.32,0.29)(24.5,0.2)(24.7,0.14)(24.89,0.11)(25.1,0.08)(25.4,0.06)(25.7,0.05)(26.1,0.04)};
\addplot[orng, line width=1.2pt, dash pattern=on 1.2pt off 2pt] coordinates {(0.27,0)(0.6,0.04)(1.02,0.13)(1.4,0.15)(1.78,0.15)(2.3,0.15)(2.73,0.13)(3.1,0.1)(3.48,0.08)(3.9,0.12)(4.43,0.22)(4.8,0.38)(5.19,0.57)(5.57,0.74)(5.85,0.71)(6.05,0.6)(6.23,0.46)(6.45,0.32)(6.7,0.22)(7.1,0.16)(7.46,0.13)(8.3,0.13)(9.17,0.15)(9.9,0.27)(10.5,0.38)(11.06,0.46)(11.5,0.44)(12.2,0.29)(12.8,0.22)(13.5,0.22)(14.47,0.22)(15.2,0.17)(15.98,0.13)(16.5,0.12)(16.93,0.18)(17.3,0.38)(17.69,0.71)(18.0,0.95)(18.35,1.06)(18.6,0.95)(18.83,0.78)(19.1,0.55)(19.39,0.36)(19.77,0.2)(20.15,0.13)(21.0,0.08)(22.05,0.08)(22.4,0.15)(22.8,0.43)(23.05,0.8)(23.28,0.99)(23.5,0.85)(23.75,0.66)(24.0,0.45)(24.32,0.29)(24.7,0.12)(25.08,0.08)};
\node[ttl] at (rel axis cs:0,1) {Hosp prev (solid) and inc (dotted)};
\end{axis}
\begin{axis}[panel, p01, at={(828pt,40pt)}]
\stripes{-0.2}{1.2}
\addplot[black, line width=1.1pt] coordinates {(0.85,0)(13.5,0.0)(14.07,0.018)(14.83,0.041)(15.59,0.07)(16.34,0.109)(17.1,0.174)(17.86,0.217)(18.62,0.236)(19.38,0.266)(20.13,0.324)(20.89,0.357)(21.45,0.363)(21.84,0.373)(22.03,0.344)(22.31,0.432)(22.59,0.506)(22.88,0.514)(23.26,0.49)(23.54,0.494)(24.3,0.514)(24.87,0.549)(25.34,0.572)};
\addplot[brn!50, line width=2pt] coordinates {(0.85,0)(1.2,0)};
\addplot[brn, line width=2.2pt] coordinates {(1.19,0)(11.8,0)(12.56,0.016)(13.31,0.014)(13.88,0.031)(14.45,0.061)(15.02,0.09)(15.59,0.115)(16.16,0.135)(16.72,0.158)(17.1,0.174)(17.86,0.207)(18.62,0.227)(19.38,0.256)(19.94,0.285)(20.32,0.305)(20.5,0.29)(20.7,0.275)(20.85,0.3)(20.98,0.314)(21.1,0.3)(21.25,0.315)(21.45,0.318)(21.7,0.322)(22.03,0.334)(22.2,0.33)(22.4,0.373)(22.97,0.432)(23.64,0.51)(24.0,0.508)(24.3,0.506)(24.4,0.51)(24.5,0.495)(24.6,0.505)(24.7,0.485)(24.8,0.5)(24.9,0.48)(25.0,0.5)(25.1,0.488)};
\node[ttl] at (rel axis cs:0,1) {Breakthrough ratio};
\end{axis}
\end{tikzpicture}
\end{document}
